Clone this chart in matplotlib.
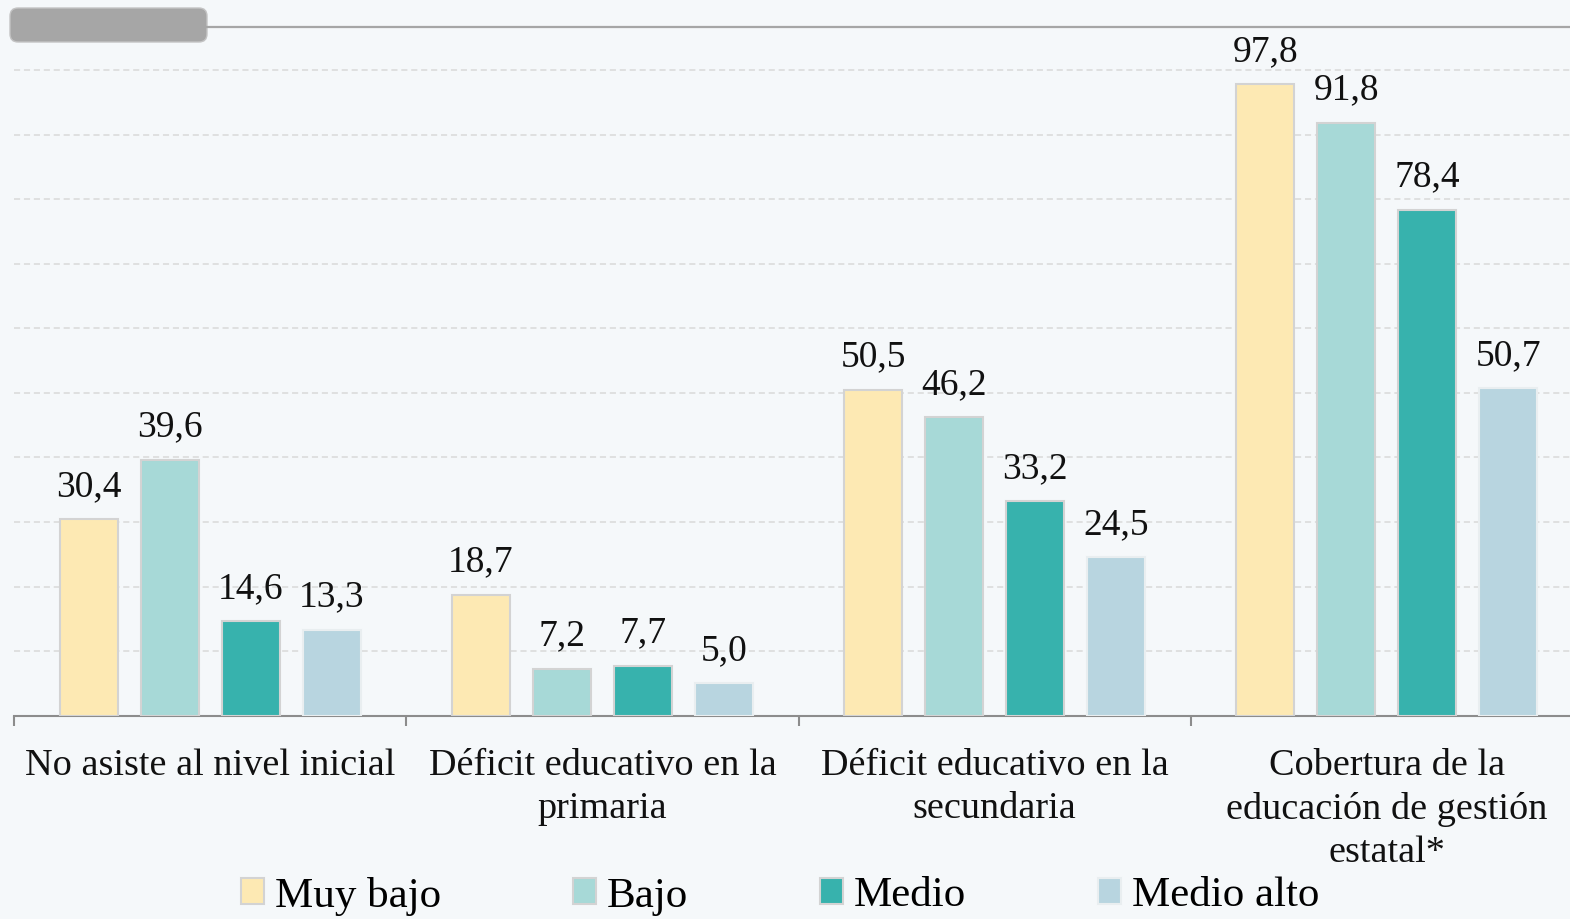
import matplotlib
matplotlib.use("Agg")
import matplotlib.pyplot as plt
import numpy as np
from matplotlib.patches import FancyBboxPatch
from matplotlib.lines import Line2D

categories = ["No asiste al nivel inicial",
              "Déficit educativo en la\nprimaria",
              "Déficit educativo en la\nsecundaria",
              "Cobertura de la\neducación de gestión\nestatal*"]
series_names = ["Muy bajo", "Bajo", "Medio", "Medio alto"]
muy_bajo = [30.4, 18.7, 50.5, 97.8]
bajo = [39.6, 7.2, 46.2, 91.8]
medio = [14.6, 7.7, 33.2, 78.4]
medio_alto = [13.3, 5.0, 24.5, 50.7]
series_values = [muy_bajo, bajo, medio, medio_alto]
colors = ["#FDE9B3", "#A7D9D7", "#37B2AD", "#B8D5E0"]
edges = ["#d3d3d3", "#d3d3d3", "#d3d3d3", "#e9eef0"]

W, H = 1570, 919
bg = "#F5F8FA"
plt.rcParams['font.family'] = ['Liberation Serif', 'DejaVu Serif']

fig = plt.figure(figsize=(W / 100, H / 100), dpi=100, facecolor=bg)
ax = fig.add_axes([14 / W, 203.4 / H, 1569 / W, 688.6 / H], facecolor=bg)

n = len(categories)
centers = np.arange(n) + 0.5
step = 0.2065
width = 0.148
for i, (name, vals) in enumerate(zip(series_names, series_values)):
    xs = centers + (i - 1.5) * step
    ax.bar(xs, vals, width=width, color=colors[i], edgecolor=edges[i],
           linewidth=1.5, label=name, zorder=3)
    for x, v in zip(xs, vals):
        ax.annotate(f"{v:.1f}".replace(".", ","), (x, v), xytext=(0, 17),
                    textcoords="offset points", ha="center", va="baseline",
                    fontsize=27, color="#111111", zorder=4)

ax.set_xlim(0, n)
ax.set_ylim(0, 106.7)
ax.set_yticks(np.arange(10, 101, 10))
ax.yaxis.grid(True, color="#d9d9d9", linewidth=1.1, linestyle=(0, (4, 2.5)), zorder=0)
ax.tick_params(axis="y", left=False, labelleft=False)
ax.set_xticks(centers)
ax.set_xticklabels(categories, fontsize=27.5, linespacing=1.32, color="#111111")
ax.tick_params(axis="x", which="major", length=0, pad=24)
ax.set_xticks(np.arange(0, n + 1), minor=True)
ax.tick_params(axis="x", which="minor", length=7, width=1.5, color="#8c8c8c")
for s in ["top", "left", "right"]:
    ax.spines[s].set_visible(False)
ax.spines["bottom"].set_color("#8c8c8c")
ax.spines["bottom"].set_linewidth(1.5)
ax.set_axisbelow(True)

# header decoration
fig.lines.append(Line2D([207 / W, 1], [1 - 27 / H, 1 - 27 / H], transform=fig.transFigure,
                        color="#a6a6a6", linewidth=1.6))
box = FancyBboxPatch((10, H - 42), 197, 34, boxstyle="round,pad=0,rounding_size=8",
                     transform=None, facecolor="#a6a6a6", edgecolor="#c4c4c4", linewidth=1)
fig.patches.append(box)

leg = fig.legend(loc="center", bbox_to_anchor=(780 / W, 23 / H), ncol=4, frameon=False,
                 fontsize=31, handlelength=0.55, handleheight=0.55, handletextpad=0.25,
                 columnspacing=3.05, borderaxespad=0)

fig.savefig("out.png", dpi=100, facecolor=bg)
